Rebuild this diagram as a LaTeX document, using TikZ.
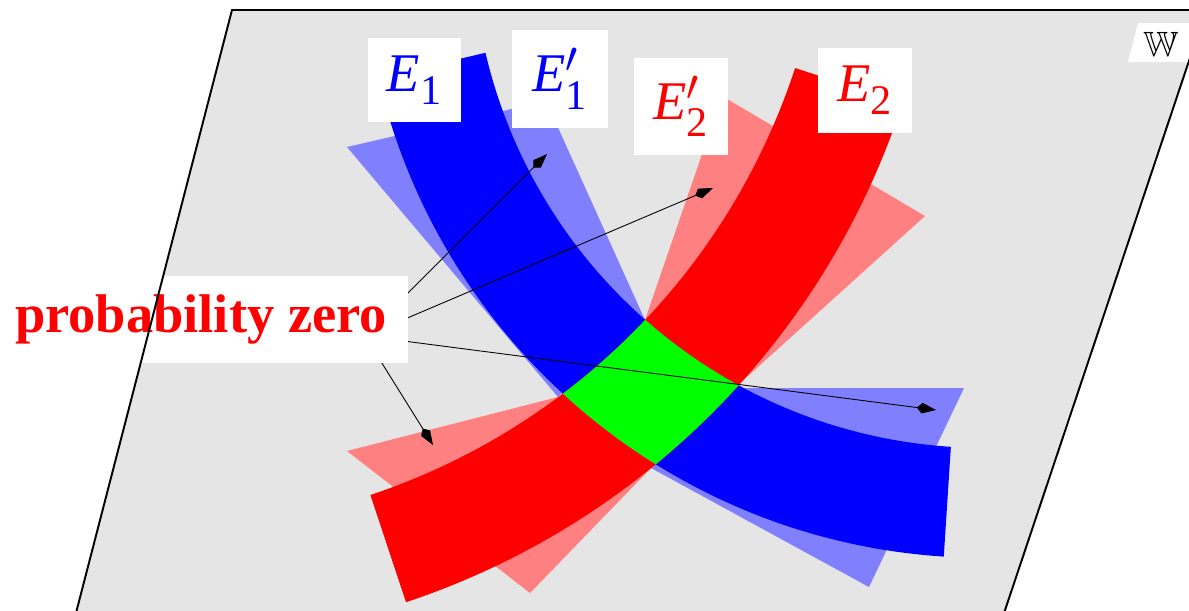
\documentclass[tikz,border=0pt]{standalone}
\usepackage{amsmath}
\usepackage{amssymb}
\usepackage{fontspec}
\setmainfont{Liberation Serif}
\usetikzlibrary{arrows.meta, calc}
\DeclareMathSizes{31}{31}{24}{17}
\tikzstyle{tag}     = [fill=white, inner sep=0pt, font=\fontsize{31}{36}\selectfont]
\tikzstyle{pointer} = [line width=0.5pt, -{Kite[length=11pt, width=6pt, inset=3pt]}]
\tikzstyle{plane}   = [fill=black!10]
\tikzstyle{rim}     = [line width=1.1pt, line join=miter]
\newcommand{\bandone}{(cone) ++(93.7:512) arc[start angle=93.7, end angle=166.8, radius=512]
  -- ($(cone)+(166.8:622)$) arc[start angle=166.8, end angle=93.7, radius=622] -- cycle}
\newcommand{\bandtwo}{(ctwo) ++(18.1:669) arc[start angle=18.1, end angle=71.6, radius=669]
  -- ($(ctwo)+(71.6:782)$) arc[start angle=71.6, end angle=18.1, radius=782] -- cycle}
\newcommand{\ev}[2]{$\text{\itshape E}#2_{\text{#1}}$}
\begin{document}
\begin{tikzpicture}[x=0.02cm, y=-0.02cm]
  \useasboundingbox (0,0) rectangle (1189,610);
  \clip (0,0) rectangle (1189,610);

  % centres of the two bands
  \coordinate (cone) at (983.9,-64.1);
  \coordinate (ctwo) at (159.2,-139.8);

  % --- plane W ---
  \fill[plane] (232,10) -- (1206,10) -- (995,640) -- (69,640) -- cycle;

  % --- E1' and E2' ---
  \fill[blue!50] (347,147) -- (546,101) -- (645,320) -- (558,397) -- cycle;
  \fill[blue!50] (738,388) -- (964,388) -- (869,587) -- (651,468) -- cycle;
  \fill[red!50]  (722,96) -- (925,216) -- (738,385) -- (645,320) -- cycle;
  \fill[red!50]  (347,451) -- (558,397) -- (651,468) -- (530,593) -- cycle;

  % --- E1 and E2 ---
  \fill[blue] \bandone;
  \fill[red] \bandtwo;
  \begin{scope}
    \clip \bandtwo;
    \fill[green] \bandone;
  \end{scope}

  % Arrows
  \coordinate (src)  at (365,336);
  \coordinate (tipa) at (547,154);
  \coordinate (tipb) at (713,188);
  \coordinate (tipc) at (936,410);
  \coordinate (tipd) at (433,445);
  \draw[pointer] (src) -- (tipa);
  \draw[pointer] (src) -- (tipb);
  \draw[pointer] (src) -- (tipc);
  \draw[pointer] (src) -- (tipd);

  % Labels
  \node (eone)  [tag, text=blue, minimum width=1.86cm, minimum height=1.68cm] at (414.5,80)  {\ev{1}{}};
  \node (eonep) [tag, text=blue, minimum width=1.92cm, minimum height=1.96cm] at (560,79)    {\ev{1}{'}};
  \node (etwop) [tag, text=red,  minimum width=1.88cm, minimum height=1.94cm] at (681,106.5) {\ev{2}{'}};
  \node (etwo)  [tag, text=red,  minimum width=1.88cm, minimum height=1.70cm] at (865,90.5)  {\ev{2}{}};
  \node (zero)  [tag, text=red, font=\fontsize{31}{36}\selectfont\bfseries,
                 inner xsep=0.42cm, minimum height=1.74cm] at (201,319.5) {probability zero};

  \fill[white] (1128,62) -- (1138,23) -- (1201,23) -- (1188,62) -- cycle;
  \node (wname) [font=\fontsize{20}{24}\selectfont] at (1161,44) {$\mathbb{W}$};
  \draw[rim] (69,640) -- (232,10) -- (1206,10) -- (995,640);

\end{tikzpicture}
\end{document}
